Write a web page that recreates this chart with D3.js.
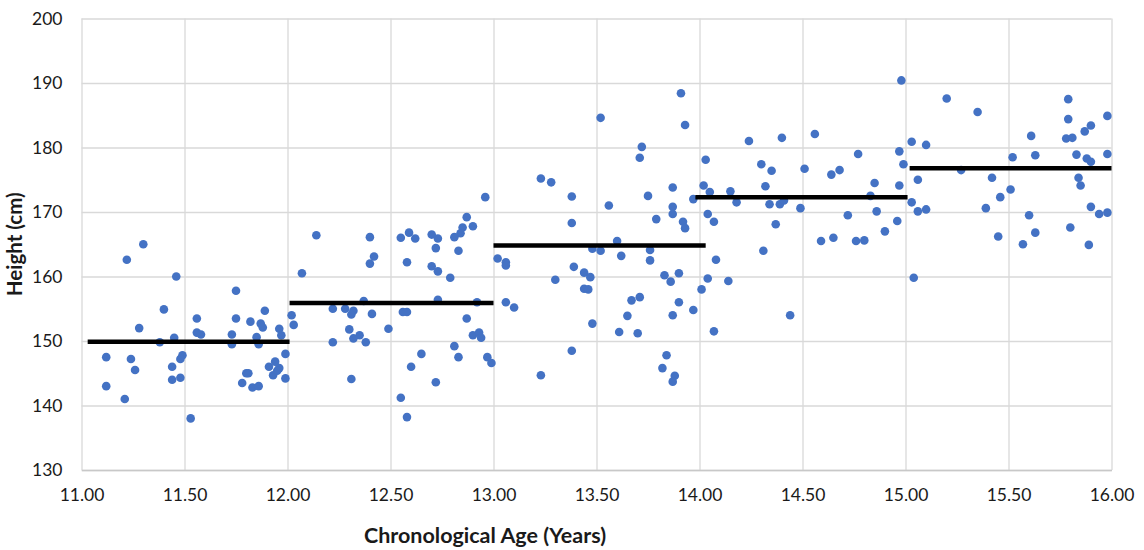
<!DOCTYPE html>
<html>
<head>
<meta charset="utf-8">
<script src="https://cdn.jsdelivr.net/npm/d3@7"></script>
<style>
  body { margin: 0; background: #fff; }
  text { font-family: Lato, "Open Sans", sans-serif; fill: #1a1a1a; }
</style>
</head>
<body>
<div id="chart"></div>
<script>
// age (years) and height (cm) of each child
const ages = [
  11.30, 11.22, 11.46, 11.75, 11.40, 11.56, 11.75, 11.82, 11.28, 11.56,
  11.58, 11.73, 11.45, 11.38, 11.73, 11.12, 11.24, 11.49, 11.48, 11.26,
  11.44, 11.80, 11.81, 11.78, 11.44, 11.48, 11.12, 11.83, 11.21, 11.53,
  12.14, 12.40, 12.55, 12.59, 12.62, 12.42, 12.40, 12.58, 12.07, 12.37,
  11.89, 12.22, 12.28, 12.32, 12.31, 12.41, 12.56, 12.58, 12.02, 11.87,
  11.88, 12.03, 11.96, 11.97, 12.30, 12.49, 11.85, 11.86, 12.35, 12.32,
  12.22, 12.38, 11.99, 12.65, 11.91, 11.94, 11.96, 11.93, 11.95, 12.60,
  11.99, 12.31, 11.86, 12.55, 12.58,
  13.52, 13.23, 13.28, 13.38, 12.96, 13.56, 13.38, 12.87, 12.85, 12.90,
  12.84, 12.81, 12.70, 12.73, 12.72, 12.83, 13.48, 13.52, 13.02, 13.06,
  13.06, 12.70, 12.73, 12.79, 13.39, 13.44, 13.47, 13.30, 13.44, 13.46,
  12.73, 12.92, 13.06, 13.10, 13.48, 12.87, 12.90, 12.93, 12.94, 12.81,
  12.83, 13.38, 12.97, 12.99, 13.23, 12.72,
  13.91, 13.93, 13.72, 13.71, 14.24, 14.40, 14.03, 14.30, 14.35, 13.87,
  14.02, 14.05, 14.32, 14.15, 14.18, 13.75, 13.97, 14.34, 14.39, 13.87,
  13.87, 14.04, 14.07, 13.79, 13.92, 13.93, 14.37, 13.60, 13.76, 13.62,
  13.76, 14.31, 14.08, 13.83, 13.86, 13.90, 14.04, 14.14, 14.01, 13.67,
  13.71, 13.90, 13.65, 13.87, 13.97, 13.61, 13.70, 14.07, 13.84, 13.82,
  13.88, 13.87,
  14.98, 15.20, 14.56, 15.03, 14.97, 15.10, 14.77, 14.99, 14.51, 14.64,
  14.68, 15.06, 14.85, 14.97, 14.83, 14.41, 14.49, 15.03, 14.86, 15.06,
  15.10, 14.72, 14.96, 14.90, 14.59, 14.65, 14.76, 14.80, 15.04, 14.44,
  15.27, 15.35, 15.79, 15.79, 15.98, 15.90, 15.87, 15.61, 15.78, 15.81,
  15.52, 15.63, 15.83, 15.88, 15.90, 15.98, 15.42, 15.84, 15.85, 15.51,
  15.46, 15.39, 15.90, 15.60, 15.94, 15.98, 15.80, 15.63, 15.45, 15.57,
  15.89
];
const heights = [
  165.0, 162.6, 160.0, 157.8, 154.9, 153.5, 153.5, 153.0, 152.0, 151.3,
  151.0, 151.0, 150.5, 149.8, 149.5, 147.5, 147.2, 147.8, 147.2, 145.5,
  146.0, 145.0, 145.0, 143.5, 144.0, 144.3, 143.0, 142.8, 141.0, 138.0,
  166.4, 166.1, 166.0, 166.8, 165.9, 163.1, 162.0, 162.2, 160.5, 156.2,
  154.7, 155.0, 155.0, 154.7, 154.1, 154.2, 154.5, 154.5, 154.0, 152.7,
  152.1, 152.5, 151.9, 150.9, 151.8, 151.9, 150.6, 149.5, 150.9, 150.4,
  149.8, 149.8, 148.0, 148.0, 146.0, 146.8, 145.8, 144.7, 145.4, 146.0,
  144.2, 144.1, 143.0, 141.2, 138.2,
  184.6, 175.2, 174.6, 172.4, 172.3, 171.0, 168.3, 169.2, 167.6, 167.8,
  166.7, 166.1, 166.5, 165.9, 164.4, 164.0, 164.3, 164.0, 162.8, 162.2,
  161.7, 161.6, 160.8, 159.8, 161.5, 160.6, 159.9, 159.5, 158.1, 158.0,
  156.4, 156.0, 156.0, 155.2, 152.7, 153.5, 150.9, 151.3, 150.5, 149.2,
  147.5, 148.5, 147.5, 146.6, 144.7, 143.6,
  188.4, 183.5, 180.1, 178.4, 181.0, 181.5, 178.1, 177.4, 176.4, 173.8,
  174.1, 173.1, 174.0, 173.2, 171.5, 172.5, 172.0, 171.2, 171.2, 170.8,
  169.7, 169.7, 168.5, 168.9, 168.5, 167.5, 168.1, 165.5, 164.1, 163.2,
  162.5, 164.0, 162.6, 160.2, 159.2, 160.5, 159.7, 159.3, 158.0, 156.3,
  156.8, 156.0, 153.9, 154.0, 154.8, 151.4, 151.2, 151.5, 147.8, 145.8,
  144.6, 143.7,
  190.4, 187.6, 182.1, 180.9, 179.4, 180.4, 179.0, 177.4, 176.7, 175.8,
  176.5, 175.0, 174.5, 174.1, 172.5, 171.8, 170.6, 171.5, 170.1, 170.1,
  170.4, 169.5, 168.6, 167.0, 165.5, 166.0, 165.5, 165.6, 159.8, 154.0,
  176.5, 185.5, 187.5, 184.4, 184.9, 183.4, 182.5, 181.8, 181.4, 181.5,
  178.5, 178.8, 178.9, 178.3, 177.8, 179.0, 175.3, 175.3, 174.1, 173.5,
  172.3, 170.6, 170.8, 169.5, 169.7, 169.9, 167.6, 166.8, 166.2, 165.0,
  164.9
];

// mean height for each one-year age group
const meanStart = [11.03, 12.01, 13.00, 13.98, 15.02];
const meanEnd   = [12.01, 13.00, 14.03, 15.01, 16.00];
const meanValue = [149.9, 155.9, 164.8, 172.3, 176.8];

const xTicks = [11, 11.5, 12, 12.5, 13, 13.5, 14, 14.5, 15, 15.5, 16];
const yTicks = [130, 140, 150, 160, 170, 180, 190, 200];

const width = 1144, height = 550;
const margin = {top: 18.5, right: 32.5, bottom: 80, left: 81.5};

const svg = d3.select("#chart").append("svg")
    .attr("width", width)
    .attr("height", height);

const x = d3.scaleLinear().domain([11, 16]).range([margin.left, width - margin.right]);
const y = d3.scaleLinear().domain([130, 200]).range([height - margin.bottom, margin.top]);

// grid
svg.append("g")
    .attr("transform", `translate(0,${margin.top})`)
    .call(d3.axisBottom(x).tickValues(xTicks).tickSize(y(130) - y(200)).tickFormat(""))
    .call(g => g.select(".domain").remove())
    .call(g => g.selectAll("line").attr("stroke", "#d9d9d9").attr("stroke-width", 1.3));

svg.append("g")
    .attr("transform", `translate(${margin.left},0)`)
    .call(d3.axisRight(y).tickValues(yTicks).tickSize(x(16) - x(11)).tickFormat(""))
    .call(g => g.select(".domain").remove())
    .call(g => g.selectAll("line").attr("stroke", "#d9d9d9").attr("stroke-width", 1.3));

// tick labels
svg.append("g")
    .attr("transform", `translate(0,${y(130)})`)
    .call(d3.axisBottom(x).tickValues(xTicks).tickSize(0).tickPadding(19).tickFormat(d3.format(".2f")))
    .call(g => g.select(".domain").attr("stroke", "#c8c8c8").attr("stroke-width", 1.3))
    .call(g => g.selectAll("text").attr("font-size", 17.5).attr("fill", "#1a1a1a"));

svg.append("g")
    .attr("transform", `translate(${margin.left},0)`)
    .call(d3.axisLeft(y).tickValues(yTicks).tickSize(0).tickPadding(19))
    .call(g => g.select(".domain").remove())
    .call(g => g.selectAll("text").attr("font-size", 17.5).attr("fill", "#1a1a1a"));

// points
svg.append("g")
    .selectAll("circle")
    .data(ages.map((a, i) => ({age: a, h: heights[i]})))
    .join("circle")
    .attr("cx", d => x(d.age))
    .attr("cy", d => y(d.h))
    .attr("r", 4.3)
    .attr("fill", "#4472c4");

// group means
svg.append("g")
    .selectAll("line")
    .data(meanValue.map((v, i) => ({x0: meanStart[i], x1: meanEnd[i], v})))
    .join("line")
    .attr("x1", d => x(d.x0))
    .attr("x2", d => x(d.x1))
    .attr("y1", d => y(d.v))
    .attr("y2", d => y(d.v))
    .attr("stroke", "#000")
    .attr("stroke-width", 4.5);

// axis titles
svg.append("text")
    .attr("x", 485)
    .attr("y", 543)
    .attr("text-anchor", "middle")
    .attr("font-size", 21.5)
    .attr("font-weight", "bold")
    .text("Chronological Age (Years)");

svg.append("text")
    .attr("transform", `translate(22,${(y(130) + y(200)) / 2}) rotate(-90)`)
    .attr("text-anchor", "middle")
    .attr("font-size", 20.5)
    .attr("font-weight", "bold")
    .text("Height (cm)");
</script>
</body>
</html>
